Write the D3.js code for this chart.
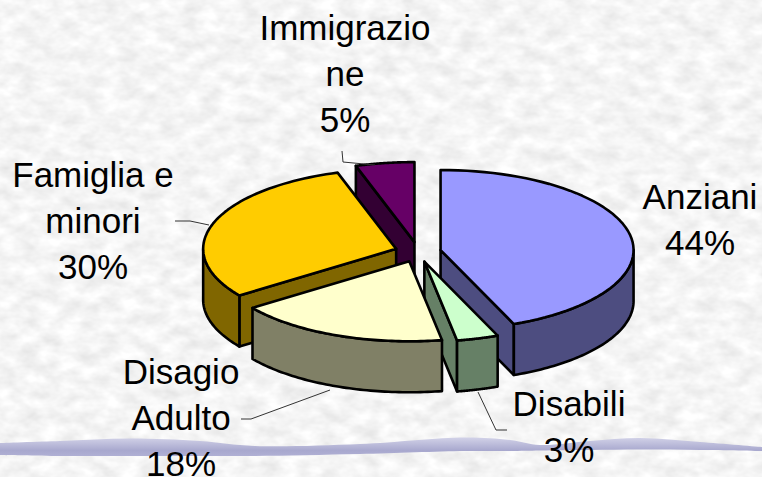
<!DOCTYPE html>
<html><head><meta charset="utf-8">
<script src="https://cdn.jsdelivr.net/npm/d3@7"></script>
<style>html,body{margin:0;padding:0;background:#f5f5f5;overflow:hidden}svg{display:block}</style>
</head><body><svg id="c" width="762" height="477"></svg>
<script>
// Data
const categories = ["Anziani","Disabili","Disagio Adulto","Famiglia e minori","Immigrazione"];
const values = [43.8,3.49,17.8,30,4.91];
const labelLines = [["Anziani","44%"],["Disabili","3%"],["Disagio","Adulto","18%"],["Famiglia e","minori","30%"],["Immigrazio","ne","5%"]];
// Styles
const topColors = ["#9999ff","#ccffcc","#ffffcc","#ffcc00","#660066"];
const sideColors = ["#4d4d80","#668066","#808066","#806600","#330033"];
// Layout
const cx=418, cy=252, rx=193, ry=80, depth=51, explodeX=23, explodeY=10;
const fontSize=35, lineGap=46;
const drawOrder=[4,3,0,1,2];
const labelPos = [[700,209],[569,415.5],[181,383.5],[93,187],[345,39.5]];
const leaders = [
  [[478,392],[496,430],[507,430]],
  [[241,419],[251,419],[330,390]],
  [[175,221],[190,221],[209,225]],
  [[342,151],[343,162],[375,165]]
];
const ribbonX   = [0,60,130,200,255,360,465,510,540,590,640,700,762];
const ribbonTop = [443,441,438.5,441,446,444,437.5,440,445,441,438,442,447];
const ribbonBot = [455,456,456,456,456,454,451,451,450.5,450,449.5,450,451];

const svg=d3.select("#c");
const defs=svg.append("defs");
const f=defs.append("filter").attr("id","tex").attr("x",0).attr("y",0).attr("width","100%").attr("height","100%").attr("color-interpolation-filters","sRGB");
f.append("feTurbulence").attr("type","fractalNoise").attr("baseFrequency","0.05 0.08").attr("numOctaves",3).attr("seed",7);
f.append("feColorMatrix").attr("type","matrix").attr("values","0.15 0 0 0 0.885  0.15 0 0 0 0.885  0.15 0 0 0 0.885  0 0 0 0 1");
svg.append("rect").attr("width",762).attr("height",477).attr("fill","#f6f6f6").attr("filter","url(#tex)");

const grad=defs.append("linearGradient").attr("id","rib").attr("x1",0).attr("x2",0).attr("y1",0).attr("y2",1);
grad.append("stop").attr("offset",0).attr("stop-color","#d2d2e8");
grad.append("stop").attr("offset",0.7).attr("stop-color","#a8a8ce");
grad.append("stop").attr("offset",1).attr("stop-color","#b0b0d4");
const area=d3.area().x((d,i)=>ribbonX[i]).y0((d,i)=>ribbonBot[i]).y1(d=>d).curve(d3.curveCatmullRom);
svg.append("path").attr("d",area(ribbonTop)).attr("fill","url(#rib)");

const pie=d3.pie().sort(null).startAngle(0).endAngle(2*Math.PI);
const arcs=pie(values).map((d,i)=>{
  const mid=(d.startAngle+d.endAngle)/2;
  return {i,a0:d.startAngle,a1:d.endAngle,mid,
    ox:cx+explodeX*Math.sin(mid), oy:cy-explodeY*Math.cos(mid)};
});
const pt=(s,a,dz=0)=>[s.ox+rx*Math.sin(a), s.oy-ry*Math.cos(a)+dz];
const rim=(s,a0,a1,dz=0)=>d3.range(0,61).map(k=>pt(s,a0+(a1-a0)*k/60,dz));
const line=d3.line();

const g=svg.append("g").attr("stroke","#000").attr("stroke-width",2.6).attr("stroke-linejoin","round");
drawOrder.map(i=>arcs[i]).forEach(s=>{
  const side=sideColors[s.i], apex=[s.ox,s.oy], apexB=[s.ox,s.oy+depth];
  const face=a=>{const p=pt(s,a),q=pt(s,a,depth);
    g.append("path").attr("d",line([apex,p,q,apexB])+"Z").attr("fill",side);};
  if(Math.sin(s.a0)<-1e-6) face(s.a0);
  if(Math.sin(s.a1)>1e-6) face(s.a1);
  const w0=Math.max(s.a0,Math.PI/2), w1=Math.min(s.a1,3*Math.PI/2);
  if(w1>w0){
    const top=rim(s,w0,w1), bot=rim(s,w0,w1,depth).reverse();
    g.append("path").attr("d",line(top.concat(bot))+"Z").attr("fill",side);
  }
  g.append("path").attr("d",line([apex].concat(rim(s,s.a0,s.a1)))+"Z").attr("fill",topColors[s.i]);
});

svg.append("g").selectAll("path").data(leaders).join("path")
  .attr("d",d=>line(d)).attr("fill","none").attr("stroke","#333").attr("stroke-width",1);

const t=svg.append("g").attr("font-family","'Liberation Sans',Arial,sans-serif").attr("font-size",fontSize).attr("fill","#000").attr("text-anchor","middle");
labelLines.forEach((ls,i)=>ls.forEach((l,j)=>{
  t.append("text").attr("x",labelPos[i][0]).attr("y",labelPos[i][1]+j*lineGap).text(l);
}));
</script></body></html>
